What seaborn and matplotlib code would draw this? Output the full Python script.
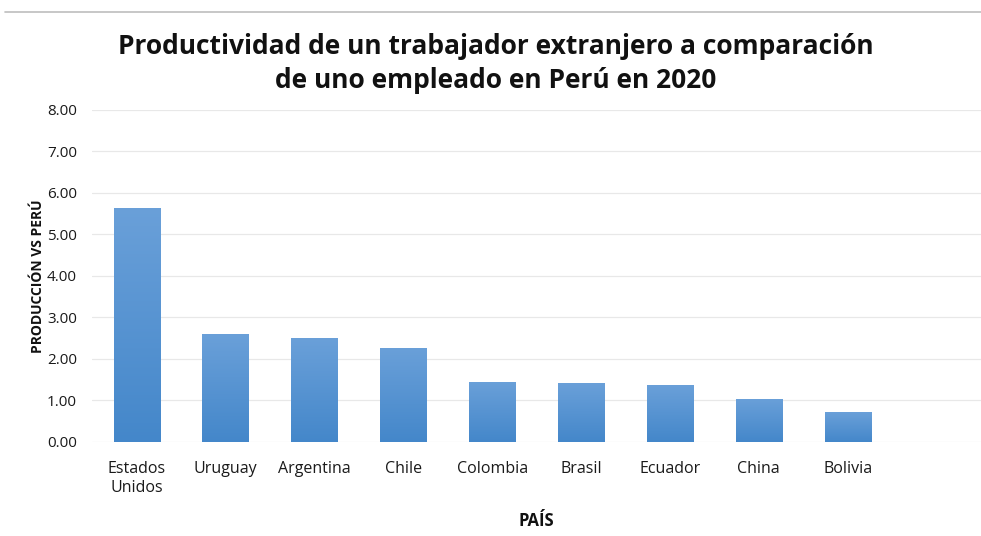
import numpy as np
import pandas as pd
import matplotlib
matplotlib.use("Agg")
import matplotlib.pyplot as plt
from matplotlib.lines import Line2D
from matplotlib.colors import LinearSegmentedColormap
import seaborn as sns

paises = ["Estados\nUnidos", "Uruguay", "Argentina", "Chile", "Colombia",
          "Brasil", "Ecuador", "China", "Bolivia"]
produccion = [5.65, 2.60, 2.50, 2.27, 1.45, 1.41, 1.37, 1.04, 0.72]
y_ticks = [0, 1, 2, 3, 4, 5, 6, 7, 8]

df = pd.DataFrame({"pais": paises, "produccion": produccion})

sns.set_theme(style="white")
plt.rcParams["font.family"] = ["Open Sans", "DejaVu Sans"]

fig = plt.figure(figsize=(9.81, 5.36), dpi=100)
ax = fig.add_axes([0.094, 0.1754, 0.906, 0.6194])

sns.barplot(data=df, x="pais", y="produccion", color="#5b9bd5",
            width=0.52, ax=ax, zorder=3, saturation=1)

# vertical gradient fill for each bar
cmap = LinearSegmentedColormap.from_list("barfill", ["#4487ca", "#6aa0d9"])
grad = np.linspace(0, 1, 256).reshape(-1, 1)
for patch in ax.patches:
    x0, y0 = patch.get_x(), patch.get_y()
    w, h = patch.get_width(), patch.get_height()
    patch.set_facecolor("none")
    patch.set_edgecolor("none")
    im = ax.imshow(grad, cmap=cmap, origin="lower", aspect="auto",
                   extent=[x0, x0 + w, y0, y0 + h], zorder=3)
    im.set_clip_path(patch)

ax.set_xlim(-0.5, 9.5)
ax.set_ylim(0, 8)
ax.set_yticks(y_ticks)
ax.set_yticklabels([f"{v:.2f}" for v in y_ticks], fontsize=11, color="#1a1a1a")
ax.tick_params(axis="x", labelsize=11.5, colors="#1a1a1a", length=0, pad=14)
ax.tick_params(axis="y", length=0, pad=11)
ax.yaxis.grid(True, color="#e8e8e8", linewidth=0.9, zorder=0)
ax.set_axisbelow(True)
for s in ax.spines.values():
    s.set_visible(False)

ax.set_xlabel("PAÍS", fontsize=12, fontweight="bold", color="#111111", labelpad=12)
ax.set_ylabel("PRODUCCIÓN VS PERÚ", fontsize=10, fontweight="bold",
              color="#111111")
ax.yaxis.set_label_coords(-0.053, 0.5)

fig.suptitle("Productividad de un trabajador extranjero a comparación\n"
             "de uno empleado en Perú en 2020",
             x=0.505, y=0.938, fontsize=19, fontweight="bold",
             color="#111111", linespacing=1.3)

fig.add_artist(Line2D([0.005, 1.0], [0.977, 0.977], color="#bdbdbd",
                      linewidth=1.2, transform=fig.transFigure))

fig.savefig("out.png", dpi=100)
